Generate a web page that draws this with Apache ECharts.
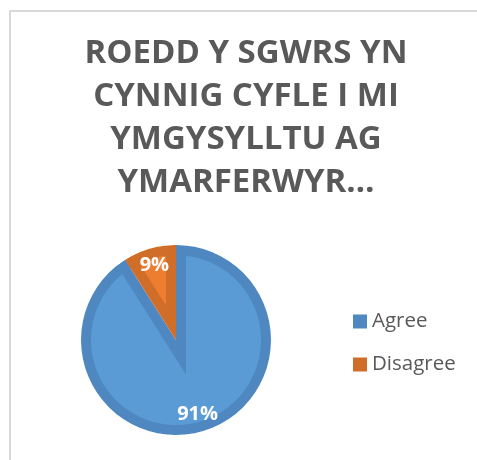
<!DOCTYPE html>
<html>
<head>
<meta charset="utf-8">
<script src="https://cdn.jsdelivr.net/npm/echarts@6/dist/echarts.min.js"></script>
<style>
  html, body { margin: 0; padding: 0; background: #fff; }
  #chart { width: 477px; height: 460px; }
</style>
</head>
<body>
<div id="chart"></div>
<script>
var categories = ['Agree', 'Disagree'];
var values = [91, 9];
var lightColors = ['#5B9BD5', '#ED7D31'];
var darkColors = ['#4F88C0', '#D06D29'];
var titleText = 'ROEDD Y SGWRS YN\nCYNNIG CYFLE I MI\nYMGYSYLLTU AG\nYMARFERWYR…';

var chart = echarts.init(document.getElementById('chart'));

var center = [176, 340];
var R = 95;
var band = 10;
var total = values.reduce((a, b) => a + b, 0);

// inner (lighter) part of each slice: same slice, apex moved along its bisector
var innerSeries = [];
var acc = 0;
values.forEach((v, i) => {
  var half = v / total * Math.PI;
  var mid = (acc / total) * 2 * Math.PI + half;
  acc += v;
  var d = band / Math.sin(half);
  var c = [center[0] + d * Math.sin(mid), center[1] - d * Math.cos(mid)];
  innerSeries.push({
    type: 'pie',
    silent: true,
    center: c,
    radius: i === 0 ? 130 : 62,
    startAngle: 90,
    clockwise: true,
    label: { show: false },
    labelLine: { show: false },
    z: 3,
    data: categories.map((n, j) => ({
      name: n,
      value: values[j],
      itemStyle: { color: j === i ? lightColors[j] : 'rgba(0,0,0,0)' }
    }))
  });
});

chart.setOption({
  animation: false,
  title: {
    text: titleText,
    left: 246,
    top: 32,
    padding: 0,
    textAlign: 'center',
    textStyle: {
      fontFamily: 'Open Sans',
      fontWeight: 'bold',
      fontSize: 33,
      lineHeight: 43,
      color: '#595959'
    }
  },
  legend: {
    orient: 'vertical',
    left: 348,
    top: 306,
    itemWidth: 14,
    itemHeight: 14,
    itemGap: 22,
    icon: 'rect',
    data: categories.map((n, i) => ({ name: n, itemStyle: { color: darkColors[i] } })),
    textStyle: { fontFamily: 'Open Sans', fontSize: 20.5, lineHeight: 20, color: '#595959' }
  },
  graphic: [{
    type: 'rect',
    z: 100,
    shape: { x: 10, y: 11, width: 600, height: 600 },
    style: { fill: 'none', stroke: '#D9D9D9', lineWidth: 2 }
  }],
  series: [{
    type: 'pie',
    silent: true,
    center: center,
    radius: R,
    startAngle: 90,
    label: { show: false },
    labelLine: { show: false },
    z: 2,
    data: categories.map((n, i) => ({ name: n, value: values[i], itemStyle: { color: darkColors[i] } }))
  }].concat(innerSeries, [{
    type: 'pie',
    silent: true,
    center: center,
    radius: [R - band, R],
    startAngle: 90,
    label: { show: false },
    labelLine: { show: false },
    z: 4,
    data: categories.map((n, i) => ({ name: n, value: values[i], itemStyle: { color: darkColors[i] } }))
  }, {
    type: 'pie',
    silent: true,
    center: center,
    radius: [R, R + 70],
    label: { show: false },
    labelLine: { show: false },
    z: 5,
    data: [{ name: 'bg', value: 1, itemStyle: { color: '#fff' } }]
  }, {
    type: 'pie',
    silent: true,
    center: center,
    radius: [54, R],
    startAngle: 90,
    z: 6,
    label: {
      show: true,
      position: 'inside',
      formatter: '{c}%',
      color: '#fff',
      fontFamily: 'Open Sans',
      fontWeight: 'bold',
      fontSize: 20
    },
    labelLine: { show: false },
    data: categories.map((n, i) => ({ name: n, value: values[i], itemStyle: { color: 'rgba(0,0,0,0)' } }))
  }])
});
</script>
</body>
</html>
